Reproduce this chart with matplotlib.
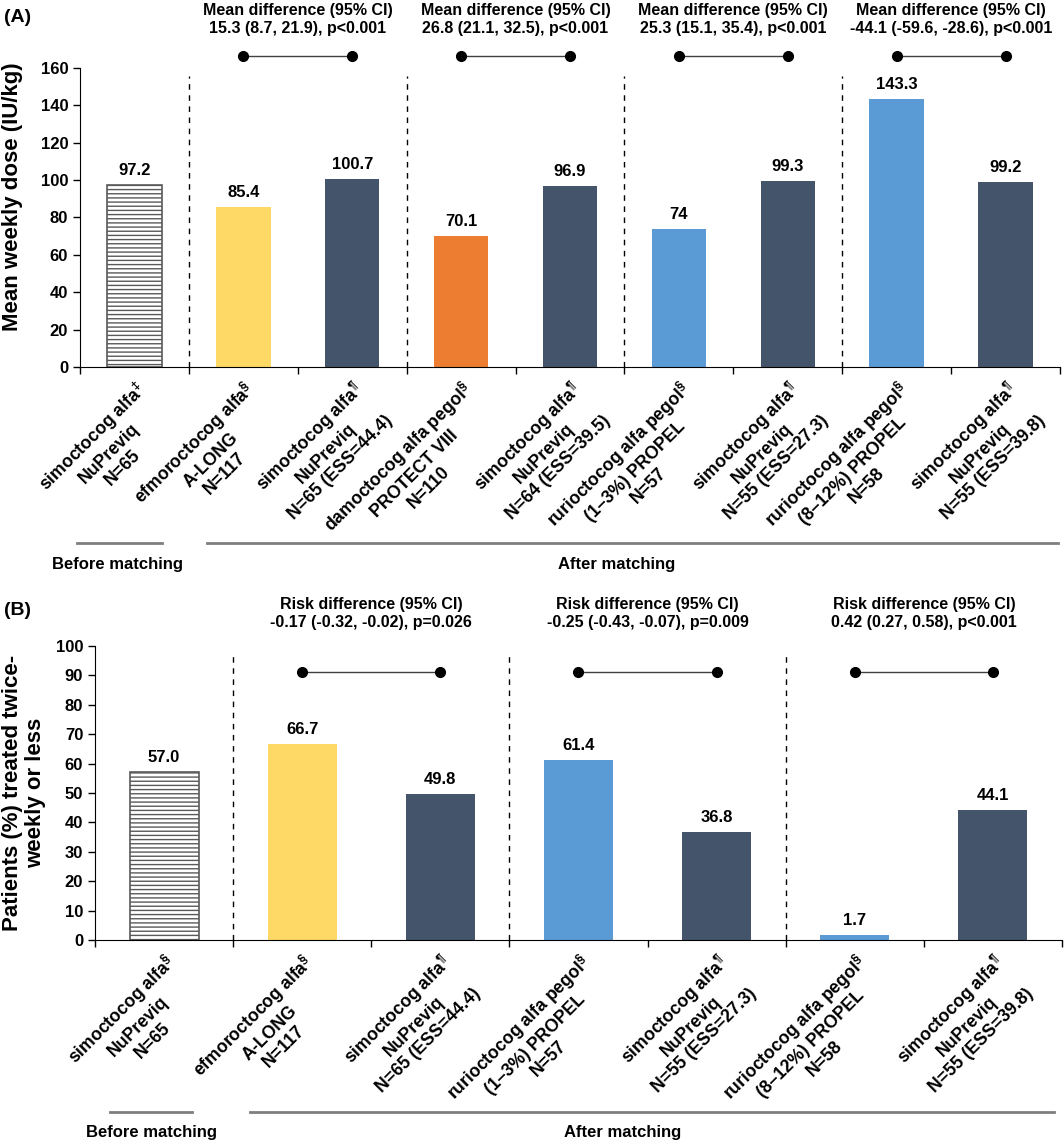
import matplotlib
matplotlib.use("Agg")
import matplotlib.pyplot as plt
import numpy as np

plt.rcParams['font.family'] = ['Liberation Sans', 'DejaVu Sans']
plt.rcParams['font.weight'] = 'bold'
plt.rcParams['mathtext.fontset'] = 'custom'
plt.rcParams['mathtext.rm'] = 'Liberation Sans:bold'
plt.rcParams['mathtext.bf'] = 'Liberation Sans:bold'
plt.rcParams['hatch.linewidth'] = 1.0

# ---- data: panel A (mean weekly dose) ----
labels_a = [
    "simoctocog alfa$^{\\ddagger}$\nNuPreviq\nN=65",
    "efmoroctocog alfa$^{\\S}$\nA-LONG\nN=117",
    "simoctocog alfa$^{\\P}$\nNuPreviq\nN=65 (ESS=44.4)",
    "damoctocog alfa pegol$^{\\S}$\nPROTECT VIII\nN=110",
    "simoctocog alfa$^{\\P}$\nNuPreviq\nN=64 (ESS=39.5)",
    "rurioctocog alfa pegol$^{\\S}$\n(1\u20133%) PROPEL\nN=57",
    "simoctocog alfa$^{\\P}$\nNuPreviq\nN=55 (ESS=27.3)",
    "rurioctocog alfa pegol$^{\\S}$\n(8\u201312%) PROPEL\nN=58",
    "simoctocog alfa$^{\\P}$\nNuPreviq\nN=55 (ESS=39.8)",
]
dose = [97.2, 85.4, 100.7, 70.1, 96.9, 74, 99.3, 143.3, 99.2]
dose_text = ["97.2", "85.4", "100.7", "70.1", "96.9", "74", "99.3", "143.3", "99.2"]
comp_a = [
    "Mean difference (95% CI)\n15.3 (8.7, 21.9), p<0.001",
    "Mean difference (95% CI)\n26.8 (21.1, 32.5), p<0.001",
    "Mean difference (95% CI)\n25.3 (15.1, 35.4), p<0.001",
    "Mean difference (95% CI)\n-44.1 (-59.6, -28.6), p<0.001",
]

# ---- data: panel B (treated twice-weekly or less) ----
labels_b = [
    "simoctocog alfa$^{\\S}$\nNuPreviq\nN=65",
    "efmoroctocog alfa$^{\\S}$\nA-LONG\nN=117",
    "simoctocog alfa$^{\\P}$\nNuPreviq\nN=65 (ESS=44.4)",
    "rurioctocog alfa pegol$^{\\S}$\n(1\u20133%) PROPEL\nN=57",
    "simoctocog alfa$^{\\P}$\nNuPreviq\nN=55 (ESS=27.3)",
    "rurioctocog alfa pegol$^{\\S}$\n(8\u201312%) PROPEL\nN=58",
    "simoctocog alfa$^{\\P}$\nNuPreviq\nN=55 (ESS=39.8)",
]
pct = [57.0, 66.7, 49.8, 61.4, 36.8, 1.7, 44.1]
comp_b = [
    "Risk difference (95% CI)\n-0.17 (-0.32, -0.02), p=0.026",
    "Risk difference (95% CI)\n-0.25 (-0.43, -0.07), p=0.009",
    "Risk difference (95% CI)\n0.42 (0.27, 0.58), p<0.001",
]

YELLOW = "#FFD966"
SLATE = "#44546A"
ORANGE = "#ED7D31"
BLUE = "#5B9BD5"
colors_a = [None, YELLOW, SLATE, ORANGE, SLATE, BLUE, SLATE, BLUE, SLATE]
colors_b = [None, YELLOW, SLATE, BLUE, SLATE, BLUE, SLATE]

fig = plt.figure(figsize=(10.64, 11.44), dpi=100)
ax1 = fig.add_axes([0.0752, 0.6792, 0.921, 0.2614])
ax2 = fig.add_axes([0.0893, 0.1783, 0.9088, 0.257])


def draw_panel(ax, vals, texts, labels, colors, comps, ymax, ystep, dash_top,
               dot_y, txt_y, ylabel):
    n = len(vals)
    x = np.arange(n)
    for i in range(n):
        if colors[i] is None:
            ax.bar(x[i], vals[i], width=0.5, color="white", edgecolor="#595959",
                   hatch="----", linewidth=1.2)
        else:
            ax.bar(x[i], vals[i], width=0.5, color=colors[i])
        ax.annotate(texts[i], (x[i], vals[i]), xytext=(0, 5),
                    textcoords="offset points", ha="center", va="bottom",
                    fontsize=12, fontweight="bold")
    # separators between comparisons
    for k in range(len(comps)):
        ax.axvline(0.5 + 2 * k, ymin=0, ymax=dash_top, color="black",
                   linestyle=(0, (4, 4)), linewidth=1)
        a, b = 1 + 2 * k, 2 + 2 * k
        ax.plot([a, b], [dot_y, dot_y], color="#404040", linewidth=1,
                marker="o", markersize=7, markerfacecolor="black",
                markeredgecolor="black", clip_on=False)
        ax.text((a + b) / 2, txt_y, comps[k], ha="center", va="center",
                fontsize=11.5, fontweight="bold", linespacing=1.3)
    ax.set_xlim(-0.5, n - 0.5)
    ax.set_ylim(0, ymax)
    ax.set_yticks(np.arange(0, ymax + 1, ystep))
    ax.set_xticks(x)
    ax.set_xticklabels(labels, rotation=45, ha="right", va="top",
                       rotation_mode="anchor", multialignment="center",
                       fontsize=12.7, fontweight="bold")
    ax.set_xticks(np.arange(-0.5, n, 1), minor=True)
    ax.tick_params(axis="x", which="major", length=0, pad=8)
    ax.tick_params(axis="x", which="minor", length=5, width=1)
    ax.tick_params(axis="y", length=5, width=1, labelsize=12)
    for t in ax.get_yticklabels():
        t.set_fontweight("bold")
    ax.spines["top"].set_visible(False)
    ax.spines["right"].set_visible(False)
    ax.spines["left"].set_color("black")
    ax.spines["bottom"].set_color("black")
    ax.set_ylabel(ylabel, fontsize=16, fontweight="bold", linespacing=1.1)


draw_panel(ax1, dose, dose_text, labels_a, colors_a, comp_a, 160, 20, 0.973,
           166.4, 186, "Mean weekly dose (IU/kg)")
draw_panel(ax2, pct, ["%.1f" % v for v in pct], labels_b, colors_b, comp_b,
           100, 10, 0.98, 91, 111, "Patients (%) treated twice-\nweekly or less")
ax1.yaxis.set_label_coords(-0.058, 0.57)
ax2.yaxis.set_label_coords(-0.051, 0.5)

# group brackets below the axes
def group(ax, x0, x1, xl, yl, yt, text):
    tr = ax.get_xaxis_transform()
    ax.plot([x0, x1], [yl, yl], color="#7F7F7F", linewidth=2, transform=tr,
            clip_on=False)
    ax.text(xl, yt, text, transform=tr, ha="center", va="center",
            fontsize=12, fontweight="bold")

group(ax1, -0.53, 0.25, -0.16, -0.589, -0.662, "Before matching")
group(ax1, 0.67, 8.48, 4.43, -0.589, -0.662, "After matching")
group(ax2, -0.39, 0.20, -0.09, -0.585, -0.656, "Before matching")
group(ax2, 0.62, 6.44, 3.32, -0.585, -0.656, "After matching")

fig.text(0.004, 0.985, "(A)", fontsize=14, fontweight="bold", va="center")
fig.text(0.004, 0.466, "(B)", fontsize=14, fontweight="bold", va="center")

fig.savefig("out.png", dpi=100)
